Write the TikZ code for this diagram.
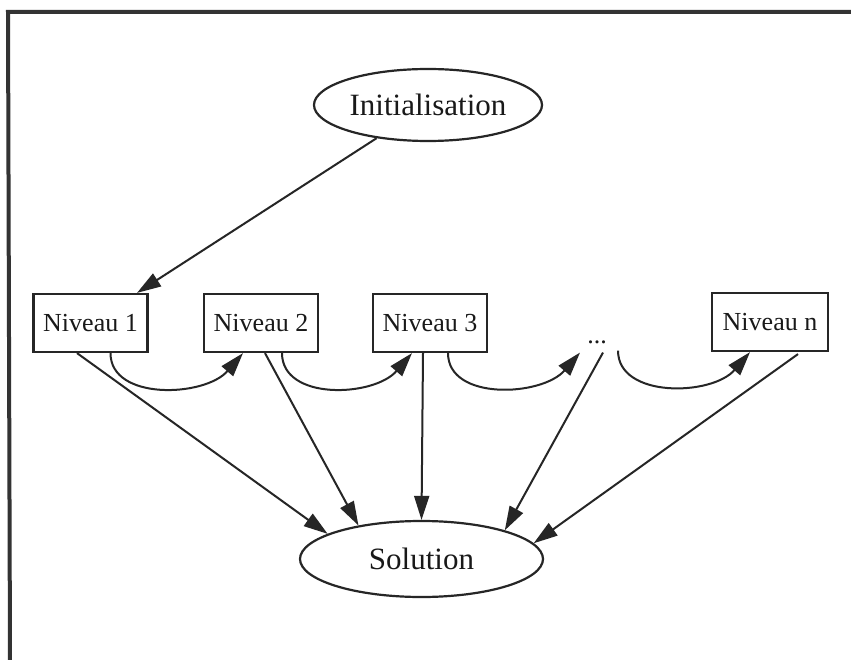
\documentclass[tikz,border=0pt]{standalone}
\usepackage{fontspec}
\setmainfont{Liberation Serif}
\usetikzlibrary{shapes.geometric,arrows.meta,calc}
\begin{document}
\begin{tikzpicture}[x=1pt,y=-1pt,
  oval/.style={ellipse, draw=black!85, line width=2.2pt, inner sep=0pt,
    font=\fontsize{31}{31}\selectfont, text=black!90},
  levelbox/.style={rectangle, draw=black!85, line width=2.2pt,
    minimum width=114pt, minimum height=58pt, inner sep=0pt,
    font=\fontsize{26}{26}\selectfont, text=black!90},
  plain/.style={inner sep=0pt, font=\fontsize{26}{26}\selectfont, text=black!90},
  link/.style={draw=black!85, line width=2pt, -{Triangle[length=24pt,width=15pt]}},
  framing/.style={draw=black!80, line width=4pt}
]
\useasboundingbox (0,0) rectangle (851,660);
\fill[white] (0,0) rectangle (851,660);
% frame
\coordinate (fb) at (10,662);
\coordinate (fc) at (8,12);
\coordinate (fr) at (853,12);
\draw[framing] (fb) -- (fc) -- (fr);

% nodes
\node[oval, minimum width=228pt, minimum height=72pt] (init) at (428,105) {Initialisation};
\node[levelbox] (n1) at (90.5,323) {Niveau 1};
\node[levelbox] (n2) at (261,323) {Niveau 2};
\node[levelbox] (n3) at (430,323) {Niveau 3};
\node[levelbox, minimum width=116pt] (nn) at (770,322) {Niveau n};
\node[plain, anchor=base] (dots) at (597,343) {...};
\node[oval, minimum width=243pt, minimum height=76pt] (sol) at (421.5,559) {Solution};

% initial arrow
\draw[link] (init) -- (n1);

% curved arrows between levels
\coordinate (a1) at ([xshift=20pt]n1.south);
\coordinate (b1) at ([xshift=-18pt]n2.south);
\coordinate (a2) at ([xshift=21pt]n2.south);
\coordinate (b2) at ([xshift=-18pt]n3.south);
\coordinate (a3) at ([xshift=18pt]n3.south);
\coordinate (b3) at ([xshift=-17pt,yshift=-9pt]dots.south);
\coordinate (a4) at ([xshift=21pt,yshift=-7pt]dots.south);
\coordinate (b4) at ([xshift=-20pt]nn.south);

\draw[link] (a1) .. controls ($(a1)+(0,48)$) and ($(b1)+(-38,44)$) .. (b1);
\draw[link] (a2) .. controls ($(a2)+(0,48)$) and ($(b2)+(-38,44)$) .. (b2);
\draw[link] (a3) .. controls ($(a3)+(0,48)$) and ($(b3)+(-38,44)$) .. (b3);
\draw[link] (a4) .. controls ($(a4)+(0,48)$) and ($(b4)+(-38,44)$) .. (b4);

% arrows to the solution
\coordinate (s1) at ([xshift=-13.5pt]n1.south);
\coordinate (s2) at ([xshift=4pt]n2.south);
\coordinate (s3) at ([xshift=-7pt]n3.south);
\coordinate (s4) at ([xshift=6pt,yshift=-9pt]dots.south);
\coordinate (s5) at ([xshift=28pt,yshift=-2pt]nn.south);
\draw[link] (s1) -- (sol.165);
\draw[link] (s2) -- (sol.152);
\draw[link] (s3) -- (sol.90);
\draw[link] (s4) -- (sol.19);
\draw[link] (s5) -- (sol.8);
\end{tikzpicture}
\end{document}
